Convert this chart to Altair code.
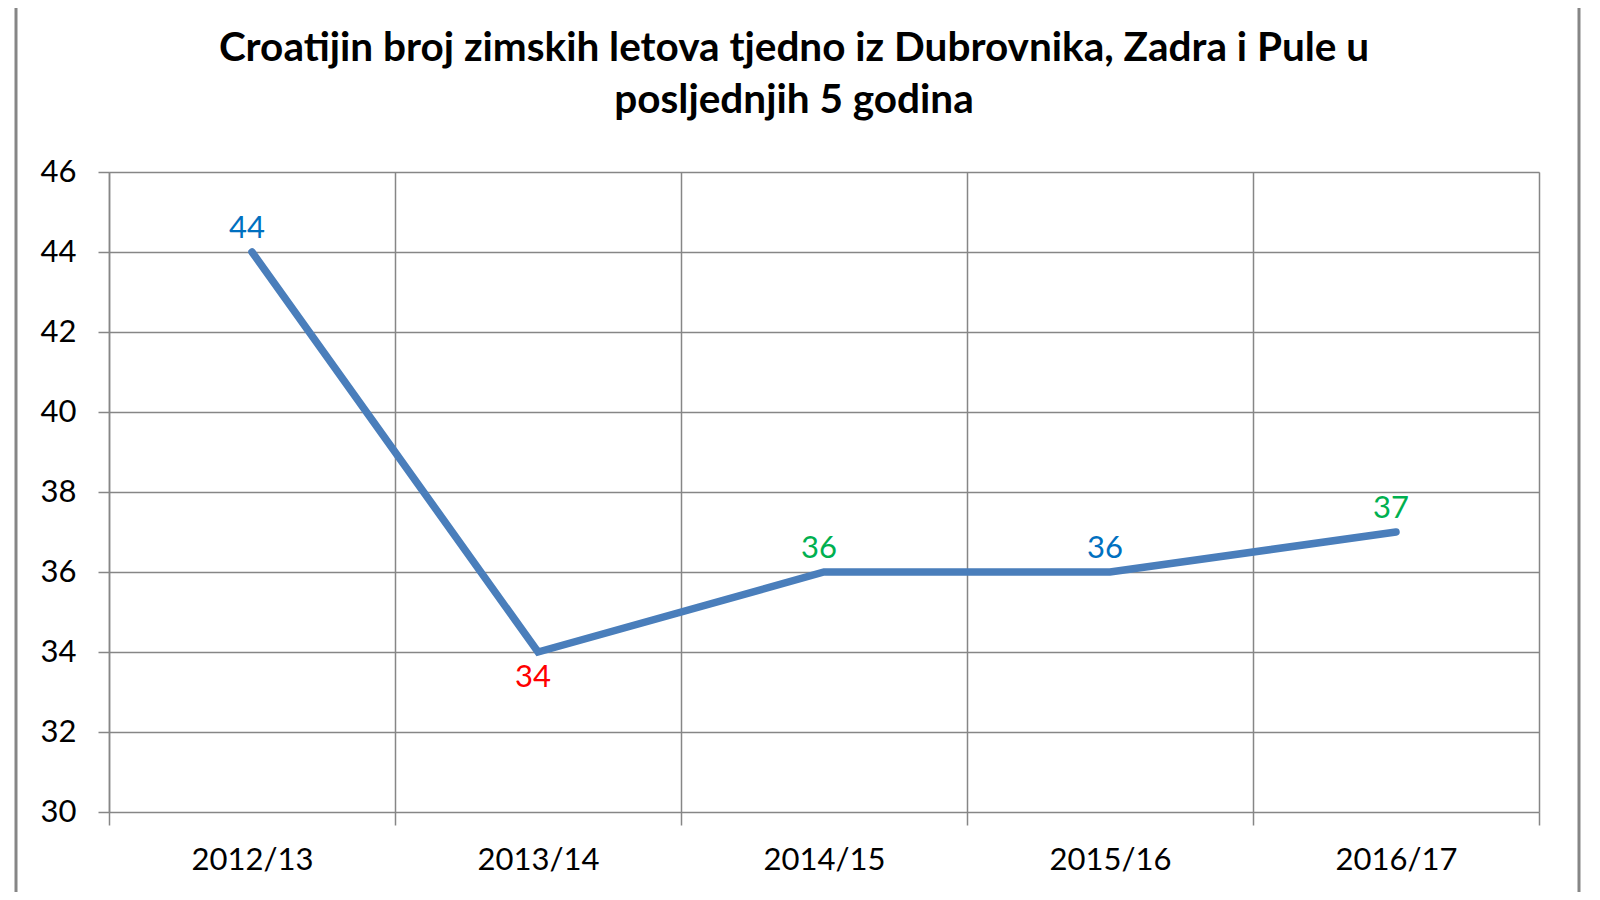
import altair as alt
import pandas as pd

seasons = ["2012/13", "2013/14", "2014/15", "2015/16", "2016/17"]
flights = [44, 34, 36, 36, 37]
label_colors = ["#0070c0", "#ff0000", "#00b050", "#0070c0", "#00b050"]
label_above = [True, False, True, True, True]
y_ticks = [30, 32, 34, 36, 38, 40, 42, 44, 46]
title_lines = ["Croatijin broj zimskih letova tjedno iz Dubrovnika, Zadra i Pule u",
               "posljednjih 5 godina"]

df = pd.DataFrame({"season": seasons, "flights": flights,
                   "color": label_colors, "above": label_above})

FONT = "Lato"
GRID = "#868686"

x_enc = alt.X("season:N", sort=seasons, title=None,
              scale=alt.Scale(paddingInner=0, paddingOuter=0),
              axis=alt.Axis(labelAngle=0, tickBand="extent", grid=True,
                            gridColor=GRID, gridWidth=1.5, domain=False,
                            tickColor=GRID, tickWidth=1.5, tickSize=13,
                            labelPadding=20, labelFontSize=31, labelFont=FONT,
                            labelColor="#000000"))
y_enc = alt.Y("flights:Q", title=None,
              scale=alt.Scale(domain=[30, 46], nice=False, zero=False),
              axis=alt.Axis(values=y_ticks, grid=True, gridColor=GRID, gridWidth=1.5,
                            domainColor=GRID, domainWidth=1.5,
                            tickColor=GRID, tickWidth=1.5, tickSize=11,
                            labelPadding=22, labelFontSize=31, labelFont=FONT,
                            labelColor="#000000"))

base = alt.Chart(df)

line = base.mark_line(color="#4a7ebb", strokeWidth=7.5, strokeCap="round").encode(
    x=x_enc, y=y_enc)

labels_above = base.transform_filter("datum.above").mark_text(
    font=FONT, fontSize=31, baseline="alphabetic", dy=-14, dx=-5).encode(
    x=alt.X("season:N", sort=seasons),
    y=alt.Y("flights:Q"),
    text=alt.Text("flights:Q"),
    color=alt.Color("color:N", scale=None))

labels_below = base.transform_filter("!datum.above").mark_text(
    font=FONT, fontSize=31, baseline="alphabetic", dy=35, dx=-5).encode(
    x=alt.X("season:N", sort=seasons),
    y=alt.Y("flights:Q"),
    text=alt.Text("flights:Q"),
    color=alt.Color("color:N", scale=None))

frame_left = alt.Chart(pd.DataFrame({"a": [0]})).mark_rule(
    color=GRID, strokeWidth=3).encode(
    x=alt.value(-93), y=alt.value(-200), y2=alt.value(800))
frame_right = alt.Chart(pd.DataFrame({"a": [0]})).mark_rule(
    color=GRID, strokeWidth=3).encode(
    x=alt.value(1470), y=alt.value(-200), y2=alt.value(800))

chart = alt.layer(frame_left, frame_right, line, labels_above, labels_below).properties(
    width=1430, height=640,
    autosize=alt.AutoSizeParams(type="none"),
    padding={"left": 101, "top": 164, "right": 53, "bottom": 80},
    title=alt.TitleParams(text=title_lines, font=FONT, fontSize=40.5, fontWeight="bold",
                          color="#000000", anchor="middle", frame="group",
                          baseline="alphabetic", offset=-183, dx=-30, lineHeight=52),
).configure_view(stroke=GRID, strokeWidth=1.5).configure(background="white")

chart.save("out.html", embed_options={"renderer": "svg", "actions": False})
